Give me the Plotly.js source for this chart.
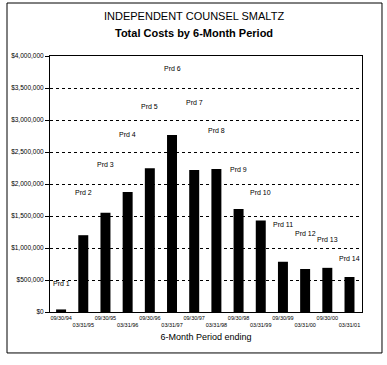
<!DOCTYPE html>
<html>
<head>
<meta charset="utf-8">
<script src="https://cdn.plot.ly/plotly-3.0.1.min.js"></script>
<style>html,body{margin:0;padding:0;background:#fff;}#chart{width:387px;height:365px;}</style>
</head>
<body>
<div id="chart"></div>
<script>
// Data
const periodEnds = ["09/30/94","03/31/95","09/30/95","03/31/96","09/30/96","03/31/97","09/30/97","03/31/98","09/30/98","03/31/99","09/30/99","03/31/00","09/30/00","03/31/01"];
const costs = [40000,1200000,1550000,1875000,2245000,2765000,2220000,2235000,1610000,1430000,785000,672000,690000,547000];
const periodLabels = ["Prd 1","Prd 2","Prd 3","Prd 4","Prd 5","Prd 6","Prd 7","Prd 8","Prd 9","Prd 10","Prd 11","Prd 12","Prd 13","Prd 14"];
const labelHeights = [440000,1870000,2310000,2780000,3210000,3810000,3270000,2840000,2230000,1860000,1360000,1220000,1140000,840000];
const yTickVals = [0,500000,1000000,1500000,2000000,2500000,3000000,3500000,4000000];
const yTickText = ["$0","$500,000","$1,000,000","$1,500,000","$2,000,000","$2,500,000","$3,000,000","$3,500,000","$4,000,000"];
const titleLine1 = "INDEPENDENT COUNSEL SMALTZ";
const titleLine2 = "Total Costs by 6-Month Period";

const FONT = "'Liberation Sans', Arial, sans-serif";
const xTickText = periodEnds.map((d, i) => i % 2 === 0 ? d : "<br>" + d);

const trace = {
  type: "bar",
  x: periodEnds,
  y: costs,
  marker: {color: "#000000", line: {width: 0}},
  hoverinfo: "skip"
};

const annotations = periodLabels.map((t, i) => ({
  x: periodEnds[i], y: labelHeights[i], xref: "x", yref: "y",
  text: t, showarrow: false,
  font: {family: FONT, size: 7, color: "#000"}
}));
annotations.push({
  xref: "paper", yref: "paper", x: (194 - 50) / 312, y: (312 - 16) / 256,
  xanchor: "center", yanchor: "middle", showarrow: false,
  text: titleLine1, font: {family: FONT, size: 11, color: "#000"}
});
annotations.push({
  xref: "paper", yref: "paper", x: (194 - 50) / 312, y: (312 - 33) / 256,
  xanchor: "center", yanchor: "middle", showarrow: false,
  text: "<b>" + titleLine2 + "</b>", font: {family: FONT, size: 11, color: "#000"}
});

const layout = {
  width: 387, height: 365,
  margin: {l: 50, r: 25, t: 56, b: 53},
  paper_bgcolor: "#fff", plot_bgcolor: "#fff",
  showlegend: false,
  bargap: 0.55,
  xaxis: {
    type: "category",
    tickvals: periodEnds, ticktext: xTickText,
    tickfont: {family: FONT, size: 5.5, color: "#000"},
    tickangle: 0,
    showline: true, linecolor: "#000", linewidth: 1, mirror: true,
    showgrid: false, ticks: "",
    title: {text: "6-Month Period ending", font: {family: FONT, size: 9, color: "#000"}, standoff: 6}
  },
  yaxis: {
    range: [0, 4000000],
    tickvals: yTickVals, ticktext: yTickText,
    tickfont: {family: FONT, size: 6.5, color: "#000"},
    showline: true, linecolor: "#000", linewidth: 1, mirror: true,
    ticks: "outside", ticklen: 4, tickcolor: "#000",
    showgrid: true, gridcolor: "#000", gridwidth: 1, griddash: "dot",
    zeroline: false
  },
  annotations: annotations,
  shapes: [{
    type: "rect", xref: "paper", yref: "paper",
    x0: -0.1378, x1: 1.0641, y0: -0.160, y1: 1.207,
    line: {color: "#000", width: 1}, fillcolor: "rgba(0,0,0,0)"
  }]
};

Plotly.newPlot("chart", [trace], layout, {displayModeBar: false, staticPlot: true});
</script>
</body>
</html>
